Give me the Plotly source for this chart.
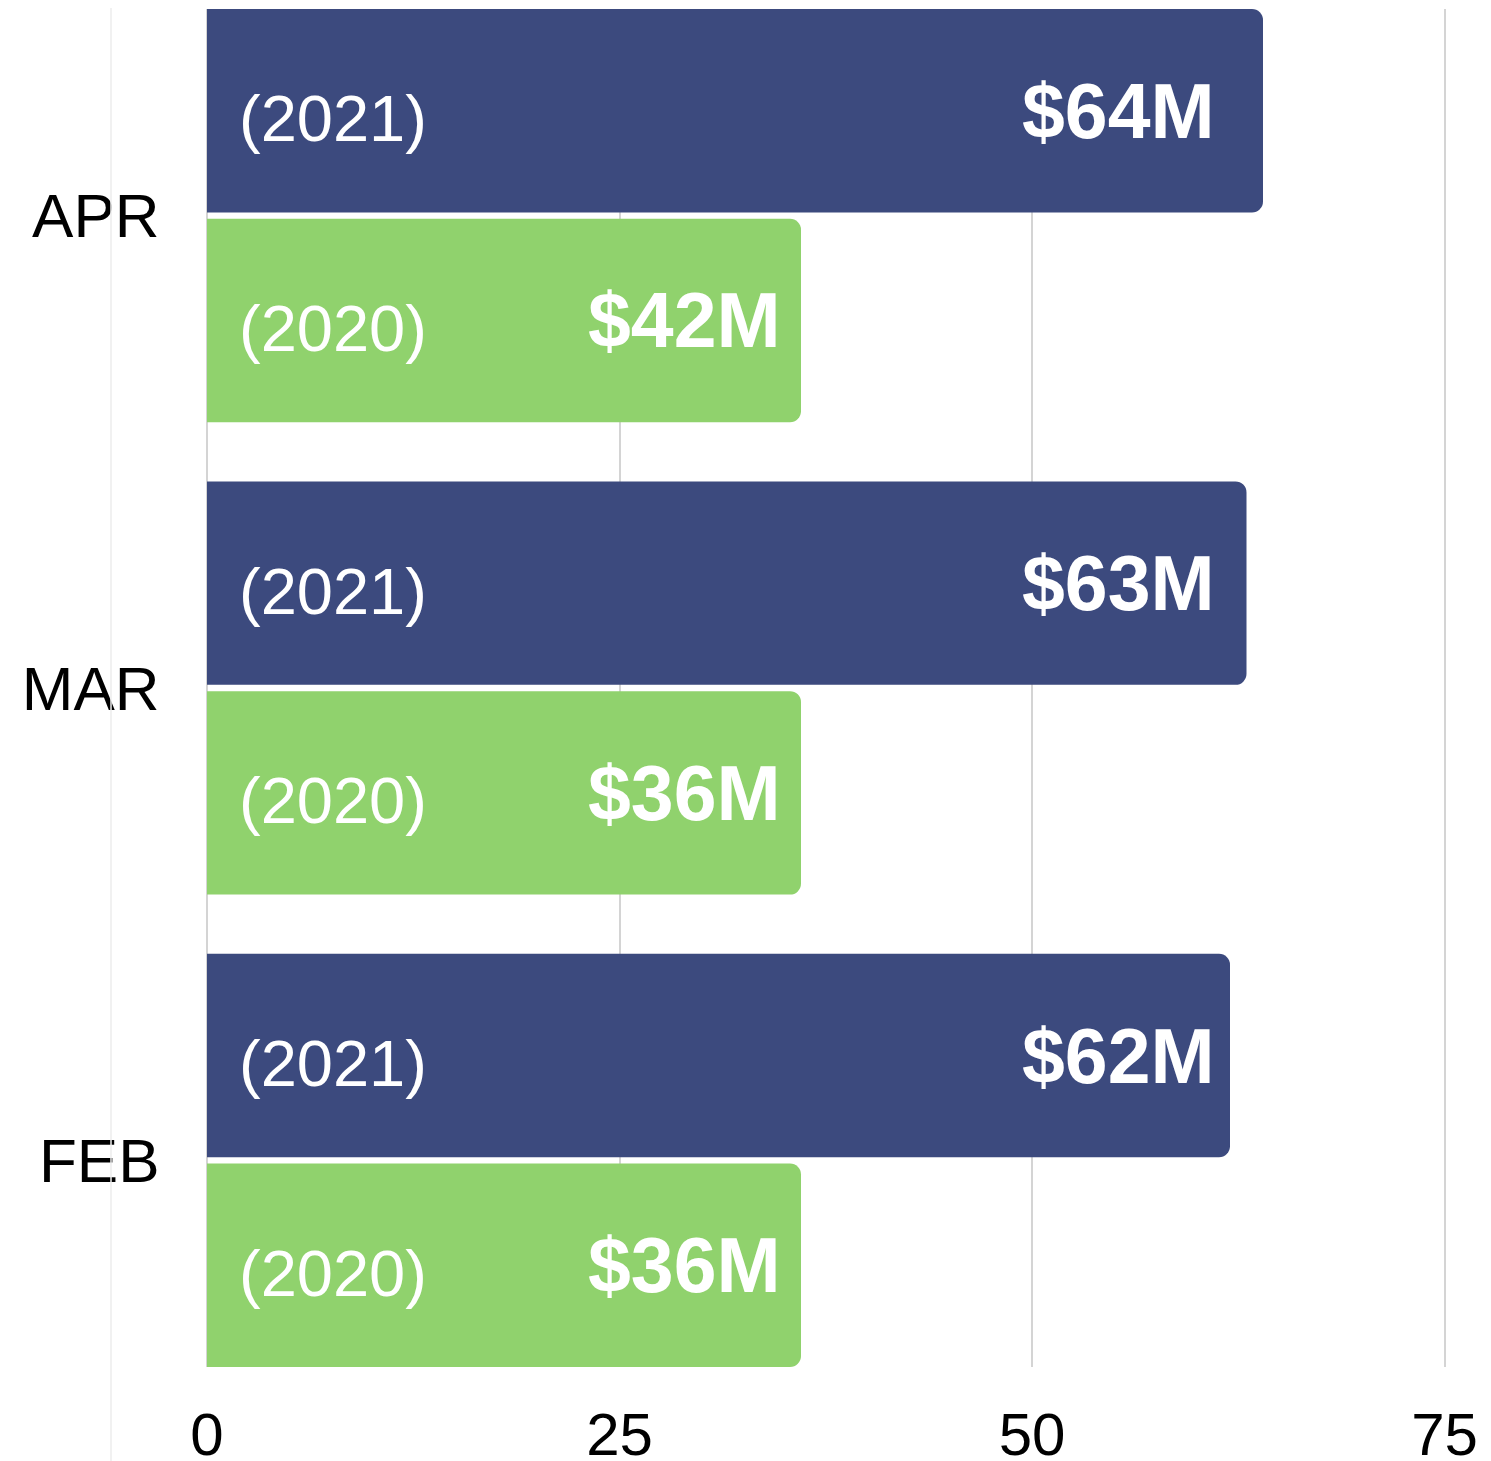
import plotly.graph_objects as go

# ---- data ----
months = ["FEB", "MAR", "APR"]
values_2020 = [36, 36, 36]
values_2021 = [62, 63, 64]
labels_2020 = ["$36M", "$36M", "$42M"]
labels_2021 = ["$62M", "$63M", "$64M"]
year_2020 = "(2020)"
year_2021 = "(2021)"
x_ticks = [0, 25, 50, 75]

# ---- style ----
NAVY = "#3c4a7e"
GREEN = "#90d26d"
FONT = "Liberation Sans"
BARGAP = 0.112
GROUPGAP = 0.03
X_RANGE = [0, 76]
FIG_W, FIG_H = 1483, 1453          # page body has an 8px default margin
M_L, M_R, M_T, M_B = 199, 30, 1, 94
PLOT_W = FIG_W - M_L - M_R
PLOT_H = FIG_H - M_T - M_B

slot = (1 - BARGAP) / 2
edge = (1 - BARGAP) / 2 - slot * GROUPGAP / 2

fig = go.Figure()
fig.add_trace(go.Bar(y=months, x=values_2020, orientation="h", name="2020",
                     marker=dict(color=GREEN, line=dict(width=0)), hoverinfo="skip"))
fig.add_trace(go.Bar(y=months, x=values_2021, orientation="h", name="2021",
                     marker=dict(color=NAVY, line=dict(width=0)), hoverinfo="skip"))

anns = []
for i, m in enumerate(months):
    y20 = i - slot / 2
    y21 = i + slot / 2
    anns.append(dict(x=0, y=y21, xref="x", yref="y", text=year_2021, showarrow=False,
                     xanchor="left", yanchor="middle", xshift=30, yshift=-8,
                     font=dict(family=FONT, size=65, color="white")))
    anns.append(dict(x=0, y=y20, xref="x", yref="y", text=year_2020, showarrow=False,
                     xanchor="left", yanchor="middle", xshift=30, yshift=-8,
                     font=dict(family=FONT, size=65, color="white")))
    anns.append(dict(x=61.2, y=y21, xref="x", yref="y", text=labels_2021[i], showarrow=False,
                     xanchor="right", yanchor="middle",
                     font=dict(family=FONT, size=77, color="white", weight="bold")))
    anns.append(dict(x=34.9, y=y20, xref="x", yref="y", text=labels_2020[i], showarrow=False,
                     xanchor="right", yanchor="middle",
                     font=dict(family=FONT, size=77, color="white", weight="bold")))

fig.update_layout(
    width=FIG_W, height=FIG_H,
    margin=dict(l=M_L, r=M_R, t=M_T, b=M_B),
    paper_bgcolor="white", plot_bgcolor="white",
    barmode="group", bargap=BARGAP, bargroupgap=GROUPGAP,
    barcornerradius=11,
    showlegend=False,
    font=dict(family=FONT, color="black"),
    annotations=anns,
    shapes=[dict(type="line", xref="paper", yref="paper",
                 x0=(111 - 207) / PLOT_W, x1=(111 - 207) / PLOT_W,
                 y0=-M_B / PLOT_H, y1=1 + M_T / PLOT_H,
                 line=dict(color="#ececec", width=1.5), layer="above")],
    xaxis=dict(range=X_RANGE, tickvals=x_ticks, showgrid=True, gridcolor="#d4d4d4",
               gridwidth=1.5, zeroline=True, zerolinecolor="#d4d4d4", zerolinewidth=1.5,
               showline=False, ticks="outside", ticklen=15, tickcolor="rgba(0,0,0,0)",
               automargin=False,
               tickfont=dict(family=FONT, size=60, color="black"), fixedrange=True),
    yaxis=dict(range=[-edge, 2 + edge], showgrid=False,
               zeroline=False, showline=False, ticks="outside", ticklen=34,
               tickcolor="rgba(0,0,0,0)", automargin=False,
               tickfont=dict(family=FONT, size=62, color="black"), fixedrange=True),
)

fig.write_html("out.html")
